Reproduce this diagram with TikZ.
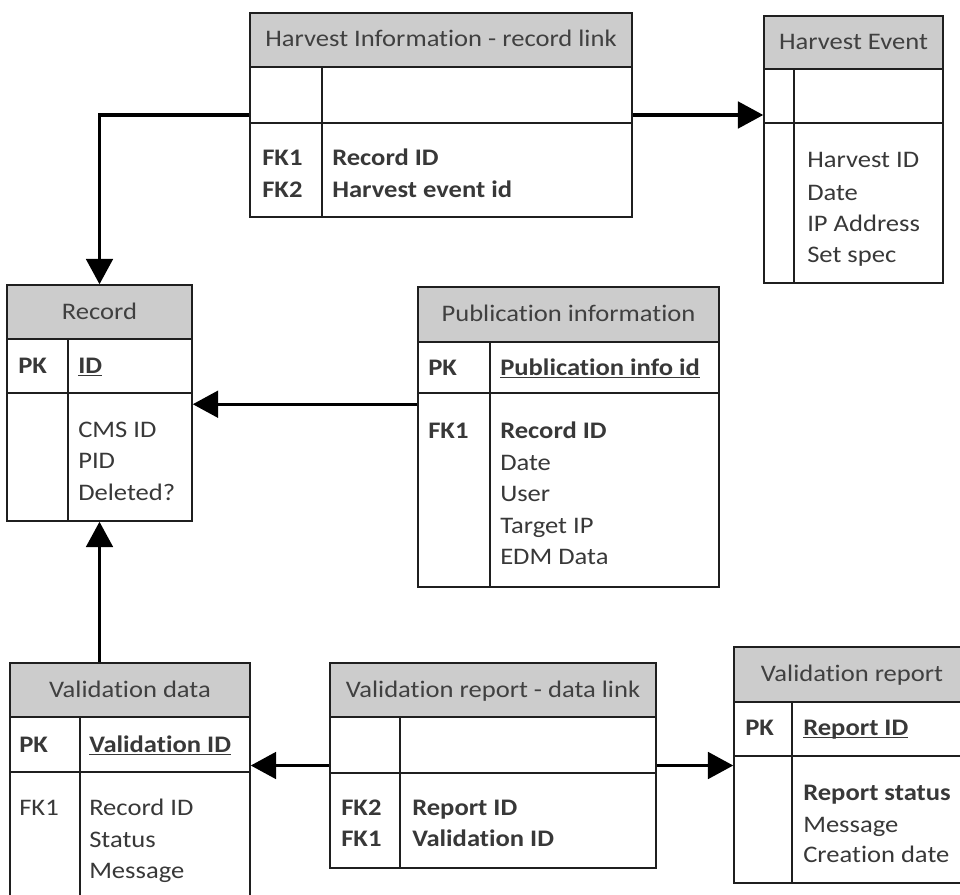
\documentclass[tikz,border=0pt]{standalone}
\usepackage{fontspec}
\setmainfont{Carlito}[FakeStretch=1.12, Ligatures={NoCommon}]
\usetikzlibrary{fit,calc,arrows.meta}

% underlined key field
\newcommand\keyul[1]{\setbox0\hbox{#1}\rlap{\rule[-2.6pt]{\wd0}{0.9pt}}\box0}

% table: name, x1, y1, x2, y2, header bottom, key row bottom, column divider, title
\newcommand\ertbl[9]{%
  \fill[hdrfill] (#2,#3) rectangle (#4,#6);
  \node[tbl, fit={(#2,#3) (#4,#5)}] (#1) {};
  \draw[rule] (#2,#6) -- (#4,#6) (#2,#7) -- (#4,#7) (#8,#6) -- (#8,#5);
  \node[ttl] (#1-title) at ($(#2,#3)!0.5!(#4,#6)+(0,7)$) {#9};
}
% field text: name, x, baseline y, text
\newcommand\fld[4]{\node[txt] (#1) at (#2,#3) {#4};}

\begin{document}
\begin{tikzpicture}[x=0.75pt,y=-0.75pt,
  hdrfill/.style={fill=black!20},
  tbl/.style={draw=black!88, line width=1.15pt, inner sep=0pt},
  rule/.style={draw=black!88, line width=1.15pt},
  ttl/.style={anchor=base, inner sep=0pt, text=black!75, font=\fontsize{17.8}{21}\selectfont},
  txt/.style={anchor=base west, inner sep=0pt, text=black!78, font=\fontsize{17.8}{21}\selectfont},
  fk/.style={draw=black, line width=2.3pt, -{Triangle[length=19pt,width=20pt]}}]

\useasboundingbox (0,0) rectangle (960,895);
\clip (0,0) rectangle (960,895);

% ---- Harvest Information - record link
\ertbl{hinfo}{250}{13}{632}{217}{67}{123}{322}{Harvest Information - record link}
\fld{hinfo-k1}{262}{166}{\bfseries FK1}
\fld{hinfo-k2}{262}{197}{\bfseries FK2}
\fld{hinfo-f1}{332}{166}{\bfseries Record ID}
\fld{hinfo-f2}{332}{197}{\bfseries Harvest event id}

% ---- Harvest Event
\ertbl{hev}{764}{16}{943}{283}{69}{123}{794}{Harvest Event}
\fld{hev-f1}{807}{168}{Harvest ID}
\fld{hev-f2}{807}{200}{Date}
\fld{hev-f3}{807}{231}{IP Address}
\fld{hev-f4}{807}{262}{Set spec}

% ---- Record
\ertbl{rec}{7}{285}{192}{521}{339}{393}{68}{Record}
\fld{rec-pk}{18}{373}{\bfseries PK}
\fld{rec-id}{78}{373}{\bfseries\keyul{ID}}
\fld{rec-f1}{78}{437}{CMS ID}
\fld{rec-f2}{78}{468}{PID}
\fld{rec-f3}{78}{500}{Deleted?}

% ---- Publication information
\ertbl{pub}{418}{287}{719}{587}{342}{393}{490}{Publication information}
\fld{pub-pk}{428}{375}{\bfseries PK}
\fld{pub-id}{500}{375}{\bfseries\keyul{Publication info id}}
\fld{pub-k1}{428}{438}{\bfseries FK1}
\fld{pub-f1}{500}{438}{\bfseries Record ID}
\fld{pub-f2}{500}{470}{Date}
\fld{pub-f3}{500}{501}{User}
\fld{pub-f4}{500}{533}{Target IP}
\fld{pub-f5}{500}{564}{EDM Data}

% ---- Validation data
\ertbl{vdata}{10}{663}{250}{910}{717}{772}{80}{Validation data}
\fld{vdata-pk}{19}{752}{\bfseries PK}
\fld{vdata-id}{89}{752}{\bfseries\keyul{Validation ID}}
\fld{vdata-k1}{19}{815}{FK1}
\fld{vdata-f1}{89}{815}{Record ID}
\fld{vdata-f2}{89}{847}{Status}
\fld{vdata-f3}{89}{878}{Message}

% ---- Validation report - data link
\ertbl{vlink}{330}{663}{656}{868}{717}{773}{400}{Validation report - data link}
\fld{vlink-k2}{341}{815}{\bfseries FK2}
\fld{vlink-k1}{341}{846}{\bfseries FK1}
\fld{vlink-f1}{412}{815}{\bfseries Report ID}
\fld{vlink-f2}{412}{846}{\bfseries Validation ID}

% ---- Validation report
\ertbl{vrep}{734}{647}{970}{883}{702}{756}{792}{Validation report}
\fld{vrep-pk}{745}{735}{\bfseries PK}
\fld{vrep-id}{803}{735}{\bfseries\keyul{Report ID}}
\fld{vrep-f1}{803}{800}{\bfseries Report status}
\fld{vrep-f2}{803}{832}{Message}
\fld{vrep-f3}{803}{862}{Creation date}

% ---- relationships
\draw[fk] (hinfo.west) -| (rec.north);
\draw[fk] (hinfo.east) -- (hinfo.east -| hev.west);
\coordinate (pubout) at ($(pub.north west)+(0,118)$);
\draw[fk] (pubout) -- (pubout -| rec.east);
\draw[fk] (rec.south |- vdata.north) -- (rec.south);
\draw[fk] (vlink.west) -- (vlink.west -| vdata.east);
\draw[fk] (vlink.east) -- (vlink.east -| vrep.west);
\end{tikzpicture}
\end{document}
